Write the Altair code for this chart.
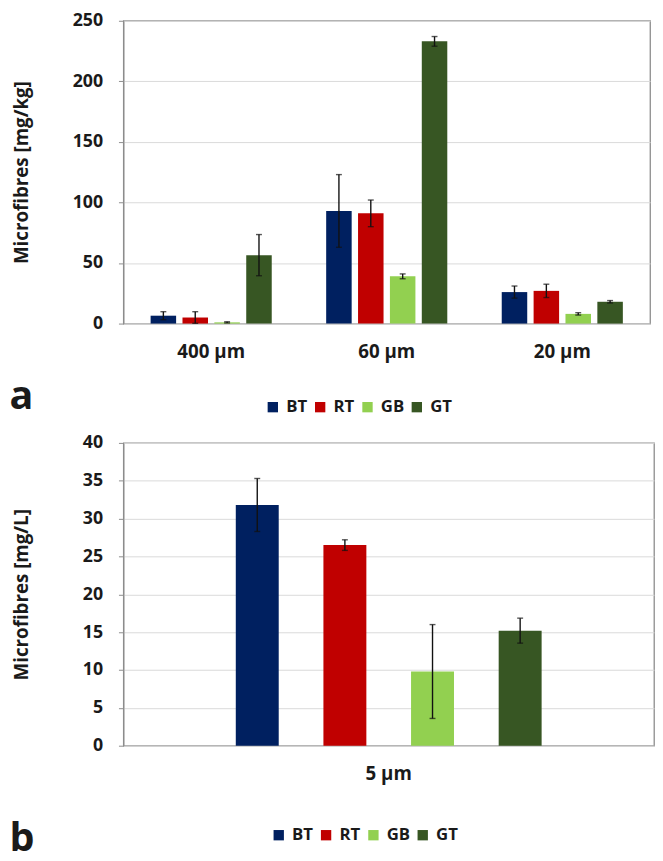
import altair as alt
import pandas as pd

series = ["BT", "RT", "GB", "GT"]
colors = ["#002060", "#C00000", "#92D050", "#375623"]

# Panel a (mg/kg)
sizes_a = ["400 µm", "60 µm", "20 µm"]
bt_a = [6.5, 93.0, 26.0]
rt_a = [5.0, 91.0, 27.0]
gb_a = [1.0, 39.0, 8.0]
gt_a = [56.5, 233.0, 18.0]
bt_a_err = [3.3, 30.0, 5.0]
rt_a_err = [4.8, 11.0, 5.5]
gb_a_err = [0.5, 2.0, 1.0]
gt_a_err = [17.0, 4.0, 1.0]

# Panel b (mg/L)
sizes_b = ["5 µm"]
vals_b = [31.8, 26.5, 9.8, 15.2]
errs_b = [3.5, 0.7, 6.2, 1.65]

rows_a = []
for name, vals, errs in zip(series, [bt_a, rt_a, gb_a, gt_a], [bt_a_err, rt_a_err, gb_a_err, gt_a_err]):
    for s, v, e in zip(sizes_a, vals, errs):
        rows_a.append({"size": s, "series": name, "value": v, "lo": v - e, "hi": v + e})
df_a = pd.DataFrame(rows_a)

rows_b = []
for name, v, e in zip(series, vals_b, errs_b):
    rows_b.append({"size": sizes_b[0], "series": name, "value": v, "lo": v - e, "hi": v + e})
df_b = pd.DataFrame(rows_b)

FONT = "Open Sans"
TXT = "#1a1a1a"
GRAY = "#8c8c8c"


def panel(df, xdomain, ymax, ystep, ytitle, label, width, height, xpout,
          pin, pout, ytitle_x, label_x, label_y, leg_x, leg_y):
    yvals = list(range(0, ymax + 1, ystep))
    base = alt.Chart(df).encode(
        x=alt.X("size:N", sort=xdomain,
                scale=alt.Scale(domain=xdomain, paddingInner=0, paddingOuter=xpout),
                axis=alt.Axis(title=label, labelAngle=0, ticks=False, domain=False,
                              labelPadding=19, labelFontSize=19, labelFont=FONT,
                              labelFontWeight="bold", labelColor=TXT,
                              titleX=label_x, titleY=label_y, titleAlign="left",
                              titleBaseline="alphabetic", titleFontSize=40,
                              titleFont=FONT, titleFontWeight="bold", titleColor=TXT)),
        xOffset=alt.XOffset("series:N", sort=series,
                            scale=alt.Scale(domain=series, paddingInner=pin, paddingOuter=pout)),
    )
    yscale = alt.Scale(domain=[0, ymax], nice=False, zero=True)
    yaxis = alt.Axis(title=ytitle, values=yvals, tickSize=5, tickColor=GRAY,
                     domainColor=GRAY, gridColor="#D9D9D9", labelPadding=16,
                     labelFontSize=18, labelFont=FONT, labelFontWeight="bold",
                     labelColor=TXT, titleFont=FONT, titleFontSize=19,
                     titleFontWeight="bold", titleColor=TXT, titleX=ytitle_x,
                     titleY=height / 2, titleAngle=270, titleAlign="center",
                     titleBaseline="middle")
    bars = base.mark_bar().encode(
        y=alt.Y("value:Q", scale=yscale, axis=yaxis, title=ytitle),
        color=alt.Color("series:N", sort=series,
                        scale=alt.Scale(domain=series, range=colors),
                        legend=alt.Legend(title=None, orient="none", direction="horizontal",
                                          legendX=leg_x, legendY=leg_y, symbolType="square",
                                          symbolSize=110, symbolStrokeWidth=0,
                                          labelFontSize=17, labelFont=FONT,
                                          labelFontWeight="bold", labelColor=TXT,
                                          labelOffset=5, columnPadding=4)),
    )
    rules = base.mark_rule(color="#111111", strokeWidth=1.4).encode(
        y=alt.Y("lo:Q", scale=yscale, axis=yaxis, title=ytitle), y2="hi:Q")
    cap_hi = base.mark_tick(color="#111111", size=6, thickness=1.4).encode(
        y=alt.Y("hi:Q", scale=yscale, axis=yaxis, title=ytitle))
    cap_lo = base.mark_tick(color="#111111", size=6, thickness=1.4).encode(
        y=alt.Y("lo:Q", scale=yscale, axis=yaxis, title=ytitle))
    return alt.layer(bars, rules, cap_hi, cap_lo).properties(width=width, height=height)


chart_a = panel(df_a, sizes_a, 250, 50, "Microfibres [mg/kg]", "a", 534, 307, 0,
                0.2, 0.854, -103, -116, 86, 143, 383)
chart_b = panel(df_b, sizes_b, 40, 5, "Microfibres [mg/L]", "b", 538, 307, 0.255,
                0.51, 0.26, -103, -116, 106, 149, 389)

chart = (
    alt.concat(chart_a, chart_b, columns=1, spacing=16)
    .resolve_scale(x="independent", y="independent", xOffset="independent", color="independent")
    .resolve_legend(color="independent")
    .properties(padding={"top": -3, "left": 0, "right": 0, "bottom": 0})
    .configure_view(stroke=GRAY, strokeWidth=1.3)
)

chart.save("out.html", embed_options={"renderer": "svg", "actions": False})
